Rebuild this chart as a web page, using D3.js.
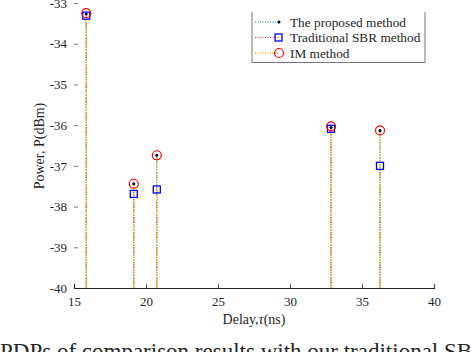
<!DOCTYPE html>
<html>
<head>
<meta charset="utf-8">
<script src="https://cdn.jsdelivr.net/npm/d3@7"></script>
<style>
  body { margin: 0; background: #fff; }
  text { font-family: "Liberation Serif", "Times New Roman", serif; fill: #262626; }
</style>
</head>
<body>
<div id="chart"></div>
<script>
// values
var delays = [15.85, 19.15, 20.75, 32.85, 36.25];
var proposed = [-33.27, -37.44, -36.74, -36.06, -36.13];
var sbr = [-33.31, -37.69, -37.58, -36.09, -37.0];
var im = [-33.25, -37.44, -36.74, -36.03, -36.13];
var xTicks = [15, 20, 25, 30, 35, 40];
var yTicks = [-40, -39, -38, -37, -36, -35, -34, -33];
var seriesNames = ["The proposed method", "Traditional SBR method", "IM method"];

var W = 472, H = 352;
var serif = "'Liberation Serif', 'Times New Roman', serif";
var svg = d3.select("#chart").append("svg")
    .attr("width", W)
    .attr("height", H);

var x = d3.scaleLinear().domain([15, 40]).range([74, 434]);
var y = d3.scaleLinear().domain([-40, -33]).range([288, 3]);

// x axis: line along bottom, ticks pointing inwards
var xAxis = svg.append("g")
    .attr("transform", "translate(0," + y(-40) + ")")
    .call(d3.axisBottom(x).tickValues(xTicks).tickSize(-4).tickPadding(9).tickFormat(d3.format("d")));
xAxis.attr("font-family", serif);
xAxis.select(".domain").attr("stroke", "#262626").attr("stroke-width", 1.2);
xAxis.selectAll(".tick line").attr("stroke", "#555");
xAxis.selectAll(".tick text").style("font-size", "13px").style("font-family", serif).attr("fill", "#262626");
xAxis.selectAll(".tick").filter(function(d) { return d === 15; }).select("line").remove();

// y axis: no spine, short gray ticks inside
var yAxis = svg.append("g")
    .attr("transform", "translate(" + x(15) + ",0)")
    .call(d3.axisLeft(y).tickValues(yTicks).tickSize(-4).tickPadding(7)
        .tickFormat(function(d) { return String(d); }));
yAxis.attr("font-family", serif);
yAxis.select(".domain").remove();
yAxis.selectAll(".tick line").attr("stroke", "#777");
yAxis.selectAll(".tick text").style("font-size", "13px").style("font-family", serif).attr("fill", "#262626");
yAxis.selectAll(".tick").filter(function(d) { return d === -40; }).select("line").remove();

// axis labels
svg.append("text")
    .attr("x", 254)
    .attr("y", 324)
    .attr("text-anchor", "middle")
    .style("font-size", "14px")
    .html('Delay,<tspan font-style="italic">τ</tspan>(ns)');

svg.append("text")
    .attr("transform", "translate(44,146) rotate(-90)")
    .attr("text-anchor", "middle")
    .style("font-size", "14px")
    .text("Power, P(dBm)");

// stems
function stems(values, color, width, dash) {
    svg.append("g").selectAll("line")
        .data(values)
        .enter()
        .append("line")
        .attr("x1", function(d, i) { return x(delays[i]); })
        .attr("x2", function(d, i) { return x(delays[i]); })
        .attr("y1", y(-40))
        .attr("y2", function(d) { return y(d); })
        .attr("stroke", color)
        .attr("stroke-width", width)
        .attr("stroke-dasharray", dash);
}

stems(proposed, "#0072BD", 1, "1,1.5");
stems(sbr, "#D95319", 1.2, "1,1.5");
stems(im, "#EDB120", 1.5, "1.5,1.5");

// markers
svg.append("g").selectAll("circle")
    .data(proposed)
    .enter()
    .append("circle")
    .attr("cx", function(d, i) { return x(delays[i]); })
    .attr("cy", function(d) { return y(d); })
    .attr("r", 1.5)
    .attr("fill", "#000");

svg.append("g").selectAll("rect")
    .data(sbr)
    .enter()
    .append("rect")
    .attr("x", function(d, i) { return x(delays[i]) - 3.5; })
    .attr("y", function(d) { return y(d) - 3.5; })
    .attr("width", 7)
    .attr("height", 7)
    .attr("fill", "none")
    .attr("stroke", "#0000FF")
    .attr("stroke-width", 1.3);

svg.append("g").selectAll("circle")
    .data(im)
    .enter()
    .append("circle")
    .attr("cx", function(d, i) { return x(delays[i]); })
    .attr("cy", function(d) { return y(d); })
    .attr("r", 4.5)
    .attr("fill", "none")
    .attr("stroke", "#FF0000")
    .attr("stroke-width", 1.2);

// legend
var lg = svg.append("g");
lg.append("path")
    .attr("d", "M252,12V62.5H425V12")
    .attr("fill", "none")
    .attr("stroke", "#777")
    .attr("stroke-width", 1);

var lgY = [22, 37.5, 53];
var lgColors = ["#0072BD", "#D95319", "#EDB120"];
seriesNames.forEach(function(name, i) {
    lg.append("line")
        .attr("x1", 255).attr("x2", 279)
        .attr("y1", lgY[i]).attr("y2", lgY[i])
        .attr("stroke", lgColors[i])
        .attr("stroke-width", i === 2 ? 1.5 : 1.2)
        .attr("stroke-dasharray", "1,1.5");
    lg.append("text")
        .attr("x", 290)
        .attr("y", lgY[i] + 4.5)
        .style("font-size", "13.3px")
        .text(name);
});
lg.append("circle").attr("cx", 279).attr("cy", lgY[0]).attr("r", 1.5).attr("fill", "#000");
lg.append("rect").attr("x", 275).attr("y", lgY[1] - 3.5).attr("width", 7).attr("height", 7)
    .attr("fill", "none").attr("stroke", "#0000FF").attr("stroke-width", 1.3);
lg.append("circle").attr("cx", 279).attr("cy", lgY[2]).attr("r", 4.5)
    .attr("fill", "none").attr("stroke", "#FF0000").attr("stroke-width", 1.2);

// cropped caption below the figure
svg.append("text")
    .attr("x", 0)
    .attr("y", 359)
    .style("font-size", "23px")
    .attr("fill", "#000")
    .text("PDPs of comparison results with our traditional SBR");
</script>
</body>
</html>
